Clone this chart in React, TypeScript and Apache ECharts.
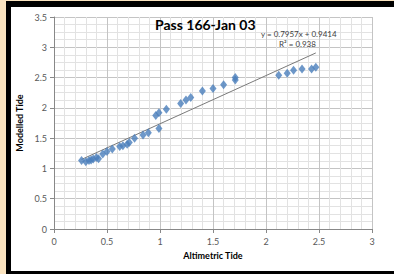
import React, { useEffect, useRef } from "react";
import * as echarts from "echarts";

const altimetric = [0.26, 0.3, 0.33, 0.35, 0.37, 0.4, 0.42, 0.46, 0.5, 0.55, 0.62, 0.65, 0.69, 0.71, 0.76, 0.84, 0.89, 0.96, 0.99, 0.99, 1.06, 1.195, 1.245, 1.29, 1.4, 1.5, 1.6, 1.71, 1.71, 2.12, 2.2, 2.26, 2.34, 2.43, 2.47];
const modelled = [1.13, 1.11, 1.13, 1.14, 1.155, 1.18, 1.16, 1.24, 1.28, 1.32, 1.36, 1.375, 1.4, 1.43, 1.5, 1.55, 1.59, 1.875, 1.92, 1.66, 1.975, 2.07, 2.13, 2.17, 2.28, 2.32, 2.38, 2.46, 2.5, 2.54, 2.57, 2.62, 2.64, 2.64, 2.67];
const slope = 0.7957;
const intercept = 0.9414;
const r2 = 0.938;
const titleText = "Pass 166-Jan 03";

const FONT = "Lato, 'Liberation Sans', Arial, sans-serif";

export default function App() {
  const ref = useRef<HTMLDivElement>(null);
  useEffect(() => {
    if (!ref.current) return;
    const chart = echarts.init(ref.current, null, { renderer: "svg" });
    const xmin = Math.min(...altimetric);
    const xmax = Math.max(...altimetric);
    chart.setOption({
      animation: false,
      backgroundColor: "transparent",
      title: {
        text: titleText,
        left: 155,
        top: 17,
        padding: 0,
        textStyle: { fontFamily: FONT, fontWeight: "bold", fontSize: 14, color: "#000" },
      },
      grid: { left: 54, top: 17, right: 22, bottom: 45 },
      xAxis: {
        type: "value",
        min: 0,
        max: 3,
        interval: 0.5,
        name: "Altimetric Tide",
        nameLocation: "middle",
        nameGap: 21,
        nameTextStyle: { fontFamily: FONT, fontWeight: "bold", fontSize: 9, color: "#000" },
        axisLine: { show: true, lineStyle: { color: "#888", width: 1 } },
        axisTick: { show: true, length: 4, lineStyle: { color: "#888" } },
        axisLabel: { fontFamily: FONT, fontSize: 9, color: "#595959", margin: 8 },
        splitLine: { show: true, lineStyle: { color: "#c4c4c4", width: 1 } },
        minorTick: { show: false, splitNumber: 5 },
        minorSplitLine: { show: true, lineStyle: { color: "#e2e2e2", width: 1 } },
      },
      yAxis: {
        type: "value",
        min: 0,
        max: 3.5,
        interval: 0.5,
        name: "Modelled Tide",
        nameLocation: "middle",
        nameGap: 21,
        nameTextStyle: { fontFamily: FONT, fontWeight: "bold", fontSize: 9, color: "#000" },
        axisLine: { show: true, lineStyle: { color: "#888", width: 1 } },
        axisTick: { show: true, length: 4, lineStyle: { color: "#888" } },
        axisLabel: { fontFamily: FONT, fontSize: 9, color: "#595959", margin: 7 },
        splitLine: { show: true, lineStyle: { color: "#c4c4c4", width: 1 } },
        minorTick: { show: false, splitNumber: 4 },
        minorSplitLine: { show: true, lineStyle: { color: "#e2e2e2", width: 1 } },
      },
      graphic: [
        {
          type: "text",
          left: 261,
          top: 30,
          style: {
            text: `y = ${slope}x + ${intercept}`,
            fontFamily: FONT,
            fontSize: 8,
            fill: "#404040",
          },
          z: 100,
        },
        {
          type: "text",
          left: 279,
          top: 40,
          style: {
            text: `R² = ${r2}`,
            fontFamily: FONT,
            fontSize: 8,
            fill: "#404040",
          },
          z: 100,
        },
      ],
      series: [
        {
          type: "line",
          data: [
            [xmin, slope * xmin + intercept],
            [xmax, slope * xmax + intercept],
          ],
          symbol: "none",
          lineStyle: { color: "#7a7a7a", width: 1 },
          z: 3,
        },
        {
          type: "scatter",
          data: altimetric.map((x, i) => [x, modelled[i]]),
          symbol: "diamond",
          symbolSize: [7, 9],
          itemStyle: { color: "#4a7ebb" },
          z: 4,
        },
      ],
    });
    return () => chart.dispose();
  }, []);
  return (
    <div style={{ position: "fixed", left: 0, top: 0, width: 394, height: 274, background: "#fbe4c0", overflow: "hidden" }}>
      <div style={{ position: "absolute", left: 6, top: 1, width: 388, height: 273, background: "#000" }} />
      <div style={{ position: "absolute", left: 11, top: 7, width: 383, height: 264, background: "#fff" }} />
      <div ref={ref} style={{ position: "absolute", left: 0, top: 0, width: 394, height: 274 }} />
    </div>
  );
}
